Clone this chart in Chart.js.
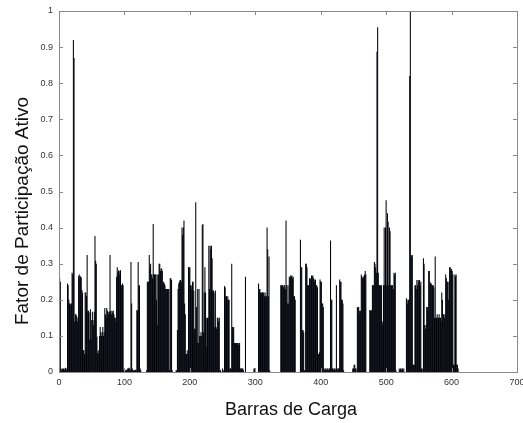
<!DOCTYPE html>
<html>
<head>
<meta charset="utf-8">
<script src="https://cdn.jsdelivr.net/npm/chart.js@4"></script>
<style>
  html, body { margin: 0; padding: 0; background: #fff; }
  canvas { display: block; }
</style>
</head>
<body>
<canvas id="myChart" width="523" height="423"></canvas>
<script>
// fator de participacao ativo por barra de carga (barras 1..610)
const fpa001 = [
  0.26, 0.25, 0.01, 0.005, 0.01, 0.008, 0.01, 0.005, 0.01, 0.012,
  0.01, 0.005, 0.245, 0.24, 0.2, 0.19, 0.19, 0.185, 0.19, 0.275,
  0.27, 0.92, 0.87, 0.14, 0.16, 0.16, 0.155, 0.14, 0.15, 0.266,
  0.27, 0.26, 0.265, 0.262, 0.227, 0.22, 0.06, 0.06, 0.05, 0.22,
  0.22, 0.21, 0.324, 0.17, 0.17, 0.165, 0.09, 0.174, 0.09, 0.144,
  0.167, 0.144, 0.13, 0.167, 0.377, 0.308, 0.3, 0.098, 0.053, 0.06,
  0.05, 0.1, 0.125, 0.11, 0.1, 0.11, 0.125, 0.1, 0.11, 0.177,
  0.16, 0.15, 0.177, 0.17, 0.167, 0.16, 0.167, 0.324, 0.17, 0.16,
  0.17, 0.165, 0.17, 0.16, 0.15, 0.15, 0.14, 0.264, 0.29, 0.275,
  0.282, 0.28, 0.27, 0.282, 0.24, 0.24, 0.245, 0.24, 0.005, 0.005
];
const fpa101 = [
  0.004, 0.005, 0.006, 0.005, 0.01, 0.01, 0.012, 0.01, 0.005, 0.305,
  0.19, 0.01, 0.005, 0.005, 0.004, 0.005, 0.006, 0.005, 0.172, 0.17,
  0.305, 0.24, 0.24, 0.01, 0.005, 0, 0, 0, 0, 0,
  0, 0, 0, 0.005, 0.25, 0.25, 0.25, 0.324, 0.29, 0.3,
  0.27, 0.27, 0.26, 0.41, 0.27, 0.27, 0.27, 0.27, 0.2, 0.27,
  0.13, 0.27, 0.3, 0.3, 0.28, 0.287, 0.287, 0.28, 0.245, 0.25,
  0.245, 0.24, 0.23, 0.23, 0.23, 0.23, 0.23, 0.23, 0.005, 0.26,
  0.26, 0.255, 0.005, 0, 0, 0, 0, 0, 0.005, 0.005,
  0.116, 0.23, 0.245, 0.25, 0.255, 0.255, 0.25, 0.4, 0.38, 0.4,
  0.42, 0.19, 0.16, 0.05, 0.05, 0.06, 0.05, 0.29, 0.29, 0.29
];
const fpa201 = [
  0.24, 0.23, 0.24, 0.25, 0.25, 0.225, 0.12, 0.12, 0.47, 0.18,
  0.08, 0.23, 0.08, 0.23, 0.1, 0.1, 0.11, 0.1, 0.407, 0.41,
  0.11, 0.22, 0.29, 0.22, 0.15, 0.07, 0.15, 0.15, 0.35, 0.23,
  0.35, 0.34, 0.35, 0.315, 0.226, 0.226, 0.22, 0.125, 0.226, 0.125,
  0.12, 0.15, 0.15, 0.14, 0.15, 0.005, 0.005, 0, 0, 0.01,
  0.005, 0, 0.238, 0.235, 0.21, 0.21, 0.2, 0.21, 0.2, 0.2,
  0.01, 0.01, 0.01, 0.3, 0.125, 0.12, 0.125, 0.08, 0.08, 0.08,
  0.08, 0.08, 0.08, 0.075, 0.08, 0.08, 0.01, 0.01, 0.01, 0.01,
  0.01, 0.005, 0, 0, 0.264, 0, 0, 0, 0, 0,
  0, 0, 0, 0, 0, 0, 0, 0.01, 0.01, 0
];
const fpa301 = [
  0, 0, 0, 0, 0.245, 0.23, 0.23, 0.22, 0.22, 0.22,
  0.22, 0.22, 0.22, 0.21, 0.22, 0.21, 0.21, 0.4, 0.34, 0.21,
  0.32, 0.005, 0, 0, 0, 0, 0, 0, 0, 0,
  0, 0, 0, 0, 0, 0, 0, 0, 0.24, 0.24,
  0.24, 0.24, 0.235, 0.24, 0.24, 0.23, 0.42, 0.24, 0.19, 0.24,
  0.19, 0.264, 0.26, 0.267, 0.265, 0.267, 0.26, 0.264, 0.21, 0.21,
  0.2, 0, 0, 0, 0, 0, 0, 0, 0.366, 0.29,
  0.29, 0.116, 0.116, 0.11, 0.005, 0.005, 0.3, 0.3, 0.29, 0.24,
  0.24, 0.24, 0.26, 0.26, 0.255, 0.267, 0.265, 0.267, 0.26, 0.256,
  0.25, 0.256, 0.24, 0.24, 0.235, 0.05, 0.05, 0.055, 0.256, 0.25
];
const fpa401 = [
  0.25, 0.19, 0.19, 0.18, 0.01, 0.005, 0.01, 0.01, 0.005, 0.01,
  0.01, 0.005, 0.01, 0.01, 0.364, 0.2, 0.2, 0.01, 0.01, 0.005,
  0.01, 0.01, 0.005, 0.24, 0.005, 0.01, 0.01, 0.01, 0.256, 0.25,
  0.25, 0.2, 0.2, 0.19, 0.005, 0, 0, 0, 0, 0,
  0, 0, 0, 0, 0, 0, 0, 0, 0.01, 0.01,
  0.02, 0.02, 0.01, 0.01, 0, 0.18, 0.177, 0.18, 0.17, 0.16,
  0.17, 0.27, 0.263, 0.26, 0.265, 0.26, 0.27, 0.28, 0.27, 0,
  0, 0, 0, 0, 0.172, 0.17, 0.17, 0.172, 0.24, 0.24,
  0.24, 0.305, 0.3, 0.29, 0.275, 0.887, 0.955, 0.275, 0.24, 0.24,
  0.24, 0.24, 0.24, 0.14, 0.13, 0.24, 0.4, 0.24, 0.4, 0.476
];
const fpa501 = [
  0.24, 0.44, 0.416, 0.24, 0.4, 0.39, 0.24, 0.24, 0.24, 0.24,
  0.23, 0.275, 0.27, 0.275, 0.005, 0, 0, 0, 0, 0.01,
  0.005, 0.01, 0.005, 0.01, 0.01, 0.005, 0.01, 0, 0, 0,
  0.204, 0.2, 0.19, 0.2, 0.2, 0.82, 1.0, 0.324, 0.32, 0.324,
  0.02, 0.02, 0.02, 0.24, 0.24, 0.23, 0.255, 0.24, 0.255, 0.25,
  0.255, 0.24, 0.25, 0.01, 0, 0.01, 0.315, 0.3, 0.13, 0.12,
  0.13, 0.18, 0.18, 0.17, 0.28, 0.28, 0.25, 0.245, 0.245, 0.24,
  0.24, 0.24, 0.235, 0.15, 0.32, 0.15, 0.15, 0.16, 0.15, 0.15,
  0.16, 0.15, 0.15, 0.14, 0.22, 0.2, 0.16, 0.16, 0.15, 0.16,
  0.27, 0.26, 0.25, 0.25, 0.2, 0.25, 0.29, 0.29, 0.28, 0.285
];
const fpa601 = [
  0.28, 0.27, 0.02, 0.02, 0.27, 0.265, 0.27, 0.02, 0.02, 0.01
];

const fatorAtivo = [...fpa001, ...fpa101, ...fpa201, ...fpa301, ...fpa401, ...fpa501, ...fpa601];
const primeiraBarra = 1;

const xTicks = [0, 100, 200, 300, 400, 500, 600, 700];
const yTicks = [0, 0.1, 0.2, 0.3, 0.4, 0.5, 0.6, 0.7, 0.8, 0.9, 1];

const xTitulo = 'Barras de Carga';
const yTitulo = 'Fator de Participação Ativo';

const pontos = fatorAtivo.map((v, i) => ({ x: primeiraBarra + i, y: v }));

const eixoCor = '#8a8a8a';
const fonte = '"Liberation Sans", Arial, sans-serif';

// caixa com marcas para dentro (estilo matlab) e titulos dos eixos
const moldura = {
  id: 'moldura',
  afterDatasetsDraw(chart) {
    const { ctx, chartArea: a, scales } = chart;
    ctx.save();
    ctx.strokeStyle = eixoCor;
    ctx.lineWidth = 1;
    ctx.strokeRect(Math.round(a.left) + 0.5, Math.round(a.top) + 0.5,
      Math.round(a.right - a.left), Math.round(a.bottom - a.top));
    ctx.beginPath();
    xTicks.forEach(t => {
      const px = Math.round(scales.x.getPixelForValue(t)) + 0.5;
      ctx.moveTo(px, a.bottom); ctx.lineTo(px, a.bottom - 4);
      ctx.moveTo(px, a.top); ctx.lineTo(px, a.top + 4);
    });
    yTicks.forEach(t => {
      const py = Math.round(scales.y.getPixelForValue(t)) + 0.5;
      ctx.moveTo(a.left, py); ctx.lineTo(a.left + 4, py);
      ctx.moveTo(a.right, py); ctx.lineTo(a.right - 4, py);
    });
    ctx.stroke();

    ctx.fillStyle = '#111';
    ctx.textAlign = 'center';
    ctx.textBaseline = 'middle';
    ctx.font = '18px ' + fonte;
    ctx.fillText(xTitulo, 291, 410);
    ctx.translate(23, 211);
    ctx.rotate(-Math.PI / 2);
    ctx.font = '19px ' + fonte;
    ctx.fillText(yTitulo, 0, 0);
    ctx.restore();
  }
};

const config = {
  type: 'bar',
  data: {
    datasets: [{
      data: pontos,
      backgroundColor: '#03030c',
      borderWidth: 0,
      barPercentage: 1.6,
      categoryPercentage: 1
    }]
  },
  options: {
    responsive: false,
    animation: false,
    devicePixelRatio: 1,
    layout: { padding: { left: 0, top: 11, right: 6, bottom: 0 } },
    plugins: { legend: { display: false }, tooltip: { enabled: false } },
    scales: {
      x: {
        type: 'linear',
        offset: false,
        min: 0,
        max: 700,
        afterBuildTicks: s => { s.ticks = xTicks.map(v => ({ value: v })); },
        afterFit: s => { s.height = 51; s.paddingLeft = 0; s.paddingRight = 0; },
        ticks: { color: '#333', font: { size: 9, family: fonte }, padding: 5, maxRotation: 0, autoSkip: false,
          callback: v => String(v) },
        grid: { display: false, drawTicks: false },
        border: { display: false }
      },
      y: {
        min: 0,
        max: 1,
        afterBuildTicks: s => { s.ticks = yTicks.map(v => ({ value: v })); },
        afterFit: s => { s.width = 59; s.paddingTop = 0; s.paddingBottom = 0; },
        ticks: { color: '#333', font: { size: 9, family: fonte }, padding: 6, autoSkip: false,
          callback: v => String(v) },
        grid: { display: false, drawTicks: false },
        border: { display: false }
      }
    }
  },
  plugins: [moldura]
};

const myChart = new Chart(document.getElementById('myChart'), config);
</script>
</body>
</html>
